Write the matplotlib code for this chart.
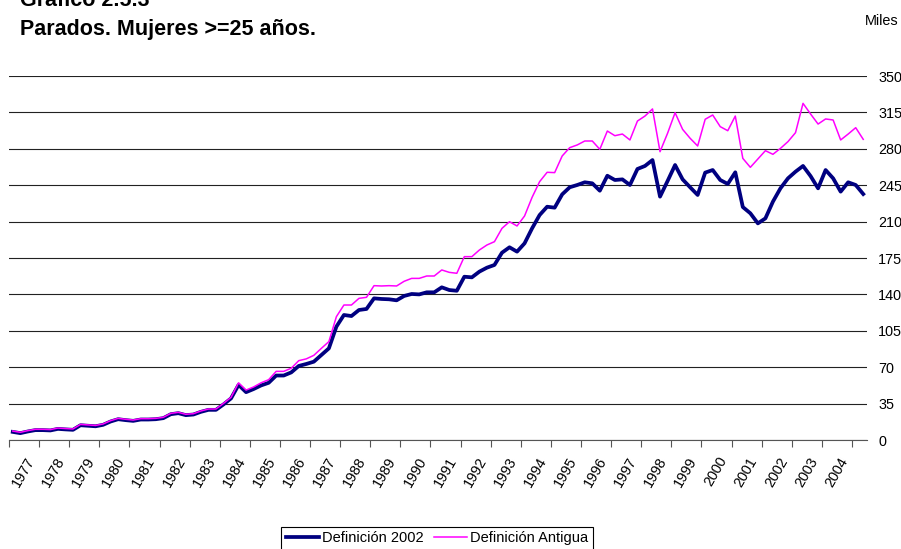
import numpy as np
import matplotlib
matplotlib.use("Agg")
import matplotlib.pyplot as plt

# quarterly data, thousands (1977Q1 ...)
years = list(range(1977, 2005))
def_2002 = [
    7.8, 6.6, 8.2, 9.5, 9.5, 9.2, 10.7, 10.2, 9.8, 14.2,
    13.7, 13.2, 14.6, 17.8, 20.0, 19.1, 18.4, 19.7, 19.7, 20.0,
    21.0, 24.8, 25.8, 23.9, 24.5, 27.1, 29.0, 29.0, 34.2, 40.0,
    53.0, 46.0, 49.0, 52.5, 55.0, 62.0, 62.0, 65.0,
    71.2, 73.1, 75.3, 81.7, 88.1, 109.0, 120.2, 119.2, 125.0, 126.0,
    136.2, 135.6, 135.3, 134.3, 138.5, 140.4, 140.0, 142.0, 142.0, 146.8,
    144.2, 143.5,
    157.0, 156.4, 161.9, 165.7, 168.3, 180.1, 185.3, 181.1, 189.1, 203.5,
    216.3, 224.3, 223.4, 236.2, 243.0, 245.2, 247.8, 246.8, 239.7, 254.1,
    250.0, 250.6, 245.2, 260.6, 263.5, 269.2, 234.0,
    249.0, 264.4, 250.6, 243.0, 235.6, 257.1, 259.6, 250.0, 246.2, 257.4,
    224.0, 218.0, 208.3, 213.1, 229.2, 242.0, 251.6, 258.0, 263.5, 253.8,
    242.0, 259.6, 251.6, 238.8, 247.8, 245.2, 236.5,
]
def_antigua = [
    8.6, 7.4, 9.0, 10.3, 10.3, 10.0, 11.5, 11.0, 10.6, 15.0,
    14.5, 14.0, 15.4, 18.6, 20.8, 19.9, 19.2, 20.5, 20.5, 20.8,
    21.8, 25.6, 26.6, 24.7, 25.3, 27.9, 29.8, 29.8, 35.2, 41.0,
    55.0, 48.0, 51.0, 55.0, 58.0, 66.0, 66.0, 69.0,
    76.3, 78.0, 81.4, 88.1, 94.6, 118.6, 129.8, 129.8, 136.2, 137.2,
    148.4, 148.1, 148.4, 148.1, 152.6, 155.4, 155.4, 157.7, 157.7, 163.5,
    161.2, 160.3,
    176.3, 176.3, 182.7, 187.5, 190.7, 203.5, 209.9, 205.8, 215.4, 233.3,
    248.4, 257.4, 257.1, 273.1, 281.1, 283.7, 287.5, 287.5, 279.5, 297.1,
    292.6, 294.2, 288.5, 306.7, 311.5, 318.3, 277.2,
    294.9, 314.7, 298.7, 290.1, 282.7, 308.4, 312.5, 301.3, 297.4, 311.5,
    270.8, 262.2, 270.2, 278.2, 274.7, 280.4, 286.9, 295.5, 323.7, 313.5,
    303.8, 308.7, 307.7, 288.5, 294.2, 300.3, 289.1,
]
y_ticks = list(range(0, 351, 35))


def main():
    plt.rcParams["font.family"] = ["Liberation Sans", "DejaVu Sans"]
    fig = plt.figure(figsize=(9.01, 5.49), dpi=100)
    ax = fig.add_axes([9 / 901, 109 / 549, 858 / 901, 364 / 549])

    n = len(def_2002)
    x = np.arange(n)
    ax.plot(x, def_2002, color="#000080", lw=2.7, label="Definición 2002")
    ax.plot(x, def_antigua, color="#FF00FF", lw=1.1, label="Definición Antigua")

    ax.set_xlim(-0.5, n - 0.5)
    ax.set_ylim(0, 350)
    ax.set_yticks(y_ticks)
    ax.yaxis.tick_right()
    ax.tick_params(axis="y", length=0, pad=8, labelsize=10.4)
    ax.grid(axis="y", color="#222222", lw=0.8)
    ax.set_axisbelow(True)

    # ticks between year groups, labels centred in each group
    ax.set_xticks([4 * k - 0.5 for k in range(len(years) + 1)])
    ax.set_xticklabels([])
    ax.set_xticks([4 * k + 2.5 for k in range(len(years))], minor=True)
    ax.set_xticklabels([str(y) for y in years], minor=True, rotation=60,
                       ha="right", va="center", rotation_mode="anchor", fontsize=10.4)
    ax.tick_params(axis="x", which="major", length=5, width=0.8, color="#555555")
    ax.tick_params(axis="x", which="minor", length=0, pad=13)

    for s in ["top", "left", "right"]:
        ax.spines[s].set_visible(False)
    ax.spines["bottom"].set_color("#555555")
    ax.spines["bottom"].set_linewidth(0.8)

    fig.text(20 / 901, 1 - 6 / 549, "Gráfico 2.5.3", fontsize=15.5,
             fontweight="bold", va="baseline")
    fig.text(20 / 901, 1 - 35 / 549, "Parados. Mujeres >=25 años.", fontsize=15.5,
             fontweight="bold", va="baseline")
    fig.text(899 / 901, 1 - 25 / 549, "Miles", fontsize=10.4, ha="right", va="baseline")

    leg = fig.legend(loc="upper center", bbox_to_anchor=(437 / 901, 1 - 527 / 549),
                     ncol=2, fontsize=10.5, frameon=True, fancybox=False,
                     edgecolor="black", framealpha=1, handlelength=2.3,
                     handletextpad=0.2, columnspacing=0.7, borderpad=0.3,
                     borderaxespad=0)
    leg.get_frame().set_linewidth(0.8)

    fig.savefig("out.png", dpi=100)
    plt.close(fig)


if __name__ == "__main__":
    main()
